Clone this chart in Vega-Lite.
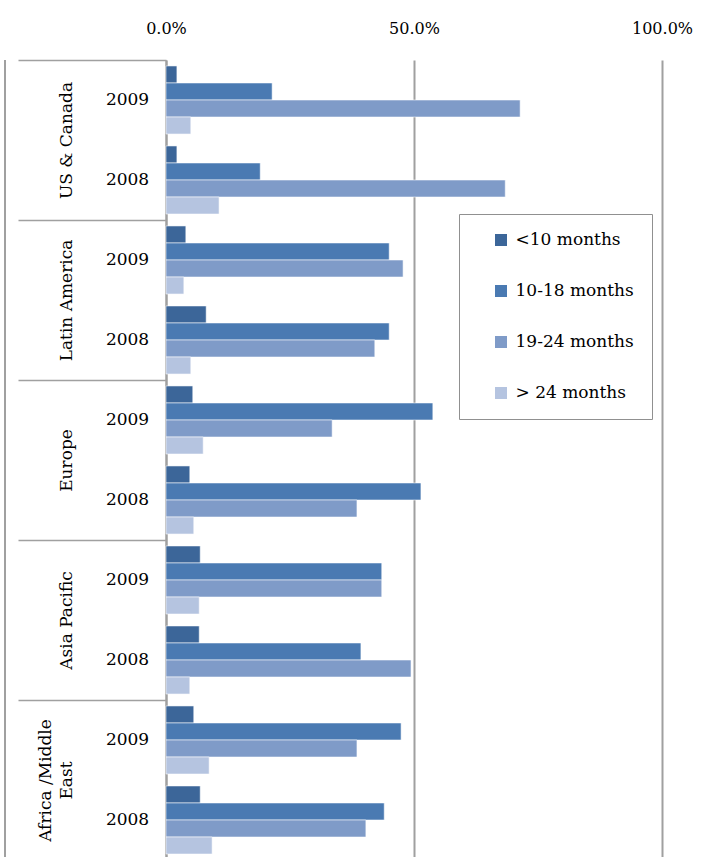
{
  "$schema": "https://vega.github.io/schema/vega-lite/v6.json",
  "autosize": "none",
  "width": 496,
  "height": 800,
  "padding": {"left": 166, "top": 60, "right": 39, "bottom": 0},
  "background": "white",
  "config": {
    "view": {"stroke": null},
    "font": "DejaVu Serif",
    "axis": {"labelFont": "DejaVu Serif", "labelColor": "black"},
    "legend": {"labelFont": "DejaVu Serif", "labelColor": "black"}
  },
  "datasets": {
    "main": [
      {"region": "US & Canada", "year": "2009", "series": "<10 months", "value": 0.022},
      {"region": "US & Canada", "year": "2009", "series": "10-18 months", "value": 0.214},
      {"region": "US & Canada", "year": "2009", "series": "19-24 months", "value": 0.714},
      {"region": "US & Canada", "year": "2009", "series": ">  24 months", "value": 0.050},
      {"region": "US & Canada", "year": "2008", "series": "<10 months", "value": 0.022},
      {"region": "US & Canada", "year": "2008", "series": "10-18 months", "value": 0.190},
      {"region": "US & Canada", "year": "2008", "series": "19-24 months", "value": 0.684},
      {"region": "US & Canada", "year": "2008", "series": ">  24 months", "value": 0.107},
      {"region": "Latin America", "year": "2009", "series": "<10 months", "value": 0.040},
      {"region": "Latin America", "year": "2009", "series": "10-18 months", "value": 0.450},
      {"region": "Latin America", "year": "2009", "series": "19-24 months", "value": 0.478},
      {"region": "Latin America", "year": "2009", "series": ">  24 months", "value": 0.036},
      {"region": "Latin America", "year": "2008", "series": "<10 months", "value": 0.081},
      {"region": "Latin America", "year": "2008", "series": "10-18 months", "value": 0.450},
      {"region": "Latin America", "year": "2008", "series": "19-24 months", "value": 0.421},
      {"region": "Latin America", "year": "2008", "series": ">  24 months", "value": 0.050},
      {"region": "Europe", "year": "2009", "series": "<10 months", "value": 0.054},
      {"region": "Europe", "year": "2009", "series": "10-18 months", "value": 0.538},
      {"region": "Europe", "year": "2009", "series": "19-24 months", "value": 0.335},
      {"region": "Europe", "year": "2009", "series": ">  24 months", "value": 0.075},
      {"region": "Europe", "year": "2008", "series": "<10 months", "value": 0.048},
      {"region": "Europe", "year": "2008", "series": "10-18 months", "value": 0.514},
      {"region": "Europe", "year": "2008", "series": "19-24 months", "value": 0.385},
      {"region": "Europe", "year": "2008", "series": ">  24 months", "value": 0.056},
      {"region": "Asia Pacific", "year": "2009", "series": "<10 months", "value": 0.069},
      {"region": "Asia Pacific", "year": "2009", "series": "10-18 months", "value": 0.435},
      {"region": "Asia Pacific", "year": "2009", "series": "19-24 months", "value": 0.435},
      {"region": "Asia Pacific", "year": "2009", "series": ">  24 months", "value": 0.067},
      {"region": "Asia Pacific", "year": "2008", "series": "<10 months", "value": 0.067},
      {"region": "Asia Pacific", "year": "2008", "series": "10-18 months", "value": 0.393},
      {"region": "Asia Pacific", "year": "2008", "series": "19-24 months", "value": 0.494},
      {"region": "Asia Pacific", "year": "2008", "series": ">  24 months", "value": 0.048},
      {"region": "Africa /Middle East", "year": "2009", "series": "<10 months", "value": 0.056},
      {"region": "Africa /Middle East", "year": "2009", "series": "10-18 months", "value": 0.474},
      {"region": "Africa /Middle East", "year": "2009", "series": "19-24 months", "value": 0.385},
      {"region": "Africa /Middle East", "year": "2009", "series": ">  24 months", "value": 0.087},
      {"region": "Africa /Middle East", "year": "2008", "series": "<10 months", "value": 0.069},
      {"region": "Africa /Middle East", "year": "2008", "series": "10-18 months", "value": 0.440},
      {"region": "Africa /Middle East", "year": "2008", "series": "19-24 months", "value": 0.403},
      {"region": "Africa /Middle East", "year": "2008", "series": ">  24 months", "value": 0.093}
    ],
    "regions": [
      {"region": "US & Canada"},
      {"region": "Latin America"},
      {"region": "Europe"},
      {"region": "Asia Pacific"},
      {"region": "Africa /Middle East"}
    ]
  },
  "layer": [
    {
      "data": {"name": "main"},
      "transform": [{"calculate": "datum.region + '|' + datum.year", "as": "key"}],
      "mark": {"type": "bar", "stroke": "white", "strokeOpacity": 0.55, "strokeWidth": 1},
      "encoding": {
        "y": {
          "field": "key",
          "type": "nominal",
          "sort": null,
          "scale": {"paddingInner": 0, "paddingOuter": 0},
          "axis": {
            "title": null,
            "orient": "left",
            "labelExpr": "split(datum.label, '|')[1]",
            "ticks": false,
            "domain": true,
            "domainColor": "#A0A0A0",
            "domainWidth": 2,
            "labelFontSize": 17,
            "labelAlign": "center",
            "labelBaseline": "middle",
            "labelPadding": 39
          }
        },
        "yOffset": {
          "field": "series",
          "type": "nominal",
          "sort": ["<10 months", "10-18 months", "19-24 months", ">  24 months"],
          "scale": {"paddingInner": 0, "paddingOuter": 0.35}
        },
        "x": {
          "field": "value",
          "type": "quantitative",
          "scale": {"domain": [0, 1], "nice": false},
          "axis": {
            "title": null,
            "orient": "top",
            "values": [0, 0.5, 1],
            "format": ".1%",
            "grid": true,
            "gridColor": "#A0A0A0",
            "gridWidth": 2,
            "domain": false,
            "ticks": false,
            "labelFlush": false,
            "labelFontSize": 16,
            "labelPadding": 24
          }
        },
        "color": {
          "field": "series",
          "type": "nominal",
          "sort": ["<10 months", "10-18 months", "19-24 months", ">  24 months"],
          "scale": {
            "domain": ["<10 months", "10-18 months", "19-24 months", ">  24 months"],
            "range": ["#3C6699", "#4A7AB2", "#7F9BC8", "#B5C4E0"]
          },
          "legend": {
            "title": null,
            "orient": "none",
            "legendX": 293,
            "legendY": 154,
            "padding": 17.5,
            "rowPadding": 33,
            "symbolType": "square",
            "symbolSize": 144,
            "symbolOffset": 16,
            "symbolStrokeWidth": 0,
            "labelOffset": 6,
            "labelFontSize": 17,
            "labelLimit": 300,
            "strokeColor": "#909090",
            "fillColor": "white"
          }
        }
      }
    },
    {
      "data": {"name": "regions"},
      "mark": {"type": "point", "opacity": 0},
      "encoding": {
        "y": {
          "field": "region",
          "type": "nominal",
          "sort": null,
          "scale": {"paddingInner": 0, "paddingOuter": 0},
          "axis": {
            "title": null,
            "orient": "left",
            "offset": 0,
            "domain": false,
            "ticks": true,
            "tickBand": "extent",
            "tickSize": 148,
            "tickColor": "#A0A0A0",
            "tickWidth": 1.5,
            "labelAngle": -90,
            "labelAlign": "center",
            "labelBaseline": "bottom",
            "labelFontSize": 17,
            "labelLineHeight": 21,
            "labelPadding": -36,
            "labelLimit": 300,
            "labelOverlap": false,
            "labelExpr": "datum.label == 'Africa /Middle East' ? ['Africa /Middle', 'East'] : [' ', datum.label]"
          }
        }
      }
    },
    {
      "data": {"values": [{"edge": -0.3246}]},
      "mark": {"type": "rule", "color": "#A0A0A0", "strokeWidth": 2, "clip": false},
      "encoding": {
        "x": {"field": "edge", "type": "quantitative"}
      }
    }
  ],
  "resolve": {"scale": {"y": "independent"}, "axis": {"y": "independent"}}
}
